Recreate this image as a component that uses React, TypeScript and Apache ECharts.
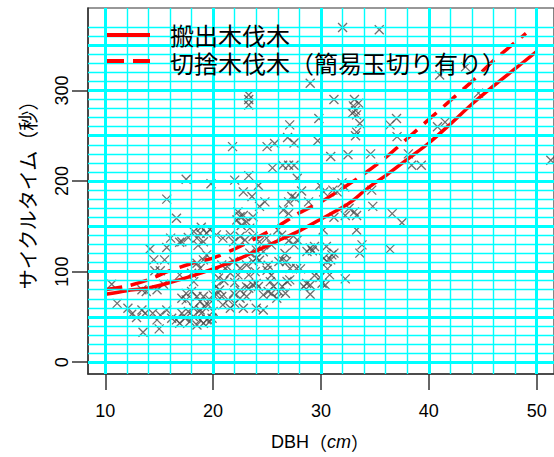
import React, { useEffect, useRef } from "react";
import * as echarts from "echarts";

// ---- axis ticks / grid lines ----
const xTickValues = [10, 20, 30, 40, 50];
const yTickValues = [0, 100, 200, 300];
const xGridMajor = [10, 20, 30, 40, 50];
const xGridMinor = [12, 14, 16, 18, 22, 24, 26, 28, 32, 34, 36, 38, 42, 44, 46, 48];
const yGridMajor = [0, 50, 100, 150, 200, 250, 300, 350];
const yGridMinor = [10, 20, 30, 40, 60, 70, 80, 90, 110, 120, 130, 140, 160, 170, 180, 190,
  210, 220, 230, 240, 260, 270, 280, 290, 310, 320, 330, 340, 360, 370];

// ---- series names ----
const seriesSolidName = "搬出木伐木";
const seriesDashedName = "切捨木伐木（簡易玉切り有り）";

// ---- smoothed curves (DBH, seconds) ----
const solidCurve: [number, number][] = [
  [10, 75], [12, 79], [14, 82], [16, 88], [18, 95], [20, 103], [22, 112], [24, 123],
  [26, 134], [28, 145], [30, 158], [32, 171], [33, 179], [34, 189], [35, 198], [36, 206],
  [38, 224], [40, 242], [42, 263], [44, 285], [46, 305], [48, 324], [50, 343],
];
const dashedCurve: [number, number][] = [
  [10, 80], [12, 84], [14, 91], [16, 101], [18, 109], [20, 115], [22, 125], [24, 137],
  [26, 150], [28, 165], [30, 177], [32, 192], [34, 208], [36, 226], [38, 247],
  [40, 268], [42, 289], [44, 310], [46, 333], [48, 353], [49, 363],
];

// ---- observations (DBH cm, cycle time s) ----
const observations: [number, number][] = [
  // upper part
  [23.3, 295], [23.3, 290], [23.3, 284],
  [21.8, 238], [25.0, 238], [25.7, 241.5], [25.5, 214.5],
  [17.5, 202], [19.8, 197], [22.0, 201], [23.3, 206], [24.2, 195], [22.8, 188], [23.6, 183],
  [15.7, 180], [16.6, 159], [24.8, 177], [24.3, 172],
  [22.3, 166], [22.8, 162], [22.2, 157], [23.1, 155], [22.6, 151], [23.7, 160.5], [22.5, 160.5], [23.4, 148],
  [18.9, 149], [19.7, 146.5],
  [32.0, 369.5], [35.4, 367], [29.0, 308], [31.2, 290],
  [33.1, 290], [33.5, 286], [33.0, 283], [33.2, 278], [32.9, 275], [33.3, 273], [33.6, 263.5], [33.3, 254], [33.2, 250],
  [29.8, 269], [27.1, 262], [26.9, 248], [27.5, 242], [29.7, 244.4],
  [30.9, 227], [32.5, 229], [34.6, 230],
  [36.4, 262], [37.0, 269], [37.05, 249],
  [40.8, 260], [41.5, 265], [41.0, 317], [43.4, 326], [44.6, 297],
  [26.45, 217.5], [27.0, 217.5], [27.5, 217.5],
  [38.1, 230], [38.4, 217.5], [39.3, 217.5],
  [27.8, 203], [28.2, 189], [27.3, 183], [27.6, 181], [27.0, 177],
  [29.9, 195], [30.25, 188], [31.1, 190], [31.95, 198], [31.5, 188], [32.2, 193.5],
  [26.5, 168], [27.0, 164], [28.85, 177], [34.8, 172], [34.7, 190], [36.6, 164], [37.5, 154],
  [31.2, 160], [32.6, 170], [33.1, 166], [33.3, 162], [32.25, 162],
  [51.3, 223],
  [30.2, 146], [33.3, 146], [26.0, 146],
  // lower left
  [10.6, 86], [11.1, 65], [12.1, 59.6], [12.45, 53], [12.9, 49.4], [13.4, 57.7], [13.7, 54],
  [13.5, 33],
  [14.15, 125], [14.5, 113], [15.5, 113], [14.6, 101], [15.1, 101],
  [15.4, 86], [14.8, 80],
  [14.4, 54], [15.1, 52], [15.7, 57.7], [14.8, 46.7], [15.0, 36.8],
  [13.4, 80], [13.8, 78],
  [16.06, 137], [16.9, 132.5], [15.7, 126.6],
  [16.16, 48.6], [16.6, 46.7], [17.1, 54], [17.4, 48.6], [17.7, 56], [17.85, 45], [16.9, 43], [18.16, 50.5],
  [18.5, 41], [18.8, 46.7], [18.9, 54], [19.1, 43], [19.4, 46.7], [19.7, 45], [19.9, 48.6],
  [17.1, 70.7], [17.5, 76], [18.0, 78], [18.5, 72.5], [18.8, 67], [19.1, 72.5], [18.2, 59.6], [18.8, 57.7],
  [19.2, 61.4], [19.55, 63.3], [19.7, 68.8], [20.0, 56], [17.5, 68.8],
  [17.1, 133], [17.7, 137.7], [18.5, 137], [19.1, 133], [19.4, 142.4], [18.8, 142.4], [18.2, 144.3], [18.6, 129],
  [16.9, 96.4], [18.0, 98.3], [18.8, 103.8], [18.2, 89],
  [18.5, 109.3], [19.1, 113], [19.4, 118.5],
  [20.0, 74.3], [20.3, 83.6], [20.6, 79.8], [20.3, 74.3], [20.8, 72.5], [20.9, 63.3], [21.4, 68.8], [21.9, 76.2],
  [21.6, 59.6], [22.0, 65], [22.5, 70.7], [23.1, 72.5], [22.8, 59.6],
  [20.3, 102], [20.8, 107.4], [21.3, 105.6], [21.9, 111.2], [21.6, 98.3], [22.3, 96.4], [22.5, 103.8], [23.1, 107.4],
  [23.7, 111.2], [23.9, 100], [23.3, 96.4],
  [20.3, 140.6], [20.9, 137], [21.6, 140.6], [21.9, 133], [22.5, 138.8], [22.95, 135], [23.7, 138.8], [24.3, 133],
  [24.96, 137], [25.4, 129.5], [24.65, 122], [24.0, 124], [23.4, 120.4], [24.0, 114.8],
  [23.3, 81.7], [23.7, 85.3], [24.2, 83.6], [24.65, 74.3], [25.1, 78], [25.6, 83.6], [25.3, 89], [24.65, 57.7], [24.0, 59.6],
  [25.1, 107], [25.0, 101.6], [25.4, 96], [24.3, 112.6], [24.0, 87], [25.4, 75.8], [22.5, 79.5], [23.1, 83.2],
  [21.0, 90], [22.0, 88], [20.5, 93],
  // lower right
  [27.0, 134], [27.8, 135], [27.5, 129.5],
  [29.0, 126], [29.2, 123], [29.4, 127.8], [28.7, 122.3],
  [30.5, 127.7], [30.25, 114.8], [30.55, 111.2], [31.0, 118.5], [30.9, 113], [31.2, 120.4],
  [33.8, 129.5], [33.6, 120.4], [36.4, 124.8],
  [26.4, 113], [26.8, 111.2], [26.1, 111.2],
  [28.1, 103],
  [29.4, 95.7], [29.9, 93.5], [30.8, 96.4], [30.6, 103], [32.25, 92],
  [28.4, 83.6], [29.0, 85.3], [30.1, 87.2], [30.4, 85.3], [29.0, 75.1],
  [26.85, 89.1], [27.1, 90.9], [26.4, 83.6], [26.7, 76.2], [26.1, 78.1], [25.9, 70.7],
  [26.35, 140.3], [26.66, 120], [27.13, 103.4], [27.74, 103.4], [28.67, 86.9],
];

const CYAN = "#00ffff";
const RED = "#ff0000";
const AXIS = "#333333";
const LEGEND_FONT = '24px "Liberation Sans", "Noto Sans CJK JP", sans-serif';

export default function App() {
  const ref = useRef<HTMLDivElement>(null);

  useEffect(() => {
    if (!ref.current) return;
    const chart = echarts.init(ref.current, undefined, { renderer: "svg" });

    const gridLineData: any[] = [
      ...xGridMinor.map((v) => ({ xAxis: v, lineStyle: { color: CYAN, width: 1.4, type: "solid" } })),
      ...yGridMinor.map((v) => ({ yAxis: v, lineStyle: { color: CYAN, width: 1.4, type: "solid" } })),
      ...xGridMajor.map((v) => ({ xAxis: v, lineStyle: { color: CYAN, width: 3, type: "solid" } })),
      ...yGridMajor.map((v) => ({ yAxis: v, lineStyle: { color: CYAN, width: 3, type: "solid" } })),
    ];

    const option: any = {
      animation: false,
      backgroundColor: "#ffffff",
      grid: {
        left: 88,
        top: 8,
        right: 0,
        bottom: 83,
        show: true,
        borderColor: AXIS,
        borderWidth: 1.2,
        backgroundColor: "transparent",
      },
      xAxis: {
        type: "value",
        min: 8.4,
        max: 51.6,
        axisLine: { show: true, onZero: false, lineStyle: { color: AXIS, width: 1.5 } },
        axisTick: {
          show: true,
          customValues: xTickValues,
          length: 16,
          lineStyle: { color: AXIS, width: 1.5 },
        },
        axisLabel: {
          customValues: xTickValues,
          margin: 28,
          fontSize: 18,
          fontFamily: "Liberation Sans",
          color: "#000",
        },
        splitLine: { show: false },
      },
      yAxis: {
        type: "value",
        min: -13,
        max: 391,
        axisLine: { show: true, onZero: false, lineStyle: { color: AXIS, width: 1.5 } },
        axisTick: {
          show: true,
          customValues: yTickValues,
          length: 16,
          lineStyle: { color: AXIS, width: 1.5 },
        },
        axisLabel: {
          customValues: yTickValues,
          rotate: 90,
          margin: 17,
          fontSize: 18,
          fontFamily: "Liberation Sans",
          color: "#000",
        },
        splitLine: { show: false },
      },
      series: [
        {
          name: "grid",
          type: "line",
          data: [],
          z: 1,
          silent: true,
          markLine: {
            silent: true,
            symbol: ["none", "none"],
            label: { show: false },
            animation: false,
            data: gridLineData,
          },
        },
        {
          name: "観測値",
          type: "scatter",
          data: observations,
          z: 3,
          symbol: "path://M0 0L10 10M10 0L0 10",
          symbolSize: 9,
          itemStyle: { color: "transparent", borderColor: "#4a4a4a", borderWidth: 1.3 },
          silent: true,
        },
        {
          name: seriesSolidName,
          type: "line",
          data: solidCurve,
          z: 4,
          smooth: 0.3,
          showSymbol: false,
          symbol: "none",
          lineStyle: { color: RED, width: 3.5, type: "solid" },
        },
        {
          name: seriesDashedName,
          type: "line",
          data: dashedCurve,
          z: 4,
          smooth: 0.3,
          showSymbol: false,
          symbol: "none",
          lineStyle: { color: RED, width: 3.5, type: [17, 9] },
        },
      ],
      graphic: [
        {
          type: "line",
          z: 10,
          shape: { x1: 107, y1: 35, x2: 150, y2: 35 },
          style: { stroke: RED, lineWidth: 4 },
        },
        {
          type: "line",
          z: 10,
          shape: { x1: 107, y1: 61, x2: 150, y2: 61 },
          style: { stroke: RED, lineWidth: 4, lineDash: [17, 9] },
        },
        {
          type: "text",
          z: 10,
          x: 170,
          y: 36.5,
          style: {
            text: seriesSolidName,
            font: LEGEND_FONT,
            fill: "#000",
            textAlign: "left",
            textVerticalAlign: "middle",
          },
        },
        {
          type: "text",
          z: 10,
          x: 170,
          y: 64.5,
          style: {
            text: seriesDashedName,
            font: LEGEND_FONT,
            fill: "#000",
            textAlign: "left",
            textVerticalAlign: "middle",
          },
        },
        {
          type: "text",
          z: 10,
          x: 27,
          y: 190,
          rotation: Math.PI / 2,
          style: {
            text: "サイクルタイム（秒）",
            font: '20px "Noto Sans CJK JP"',
            fill: "#000",
            textAlign: "center",
            textVerticalAlign: "middle",
          },
        },
        {
          type: "text",
          z: 10,
          x: 320,
          y: 442,
          style: {
            text: "{a|DBH}{p|（}{i|cm}{p|）}",
            textAlign: "center",
            textVerticalAlign: "middle",
            fill: "#000",
            rich: {
              a: { fontSize: 18, fontFamily: "Liberation Sans", fill: "#000" },
              p: { fontSize: 18, fontFamily: "Noto Sans CJK JP", fill: "#000" },
              i: { fontSize: 18, fontFamily: "Liberation Sans", fontStyle: "italic", fill: "#000" },
            },
          },
        },
      ],
    };

    chart.setOption(option);
    return () => chart.dispose();
  }, []);

  return (
    <div
      ref={ref}
      style={{ position: "absolute", left: 0, top: 0, width: 554, height: 457, background: "#fff" }}
    />
  );
}
